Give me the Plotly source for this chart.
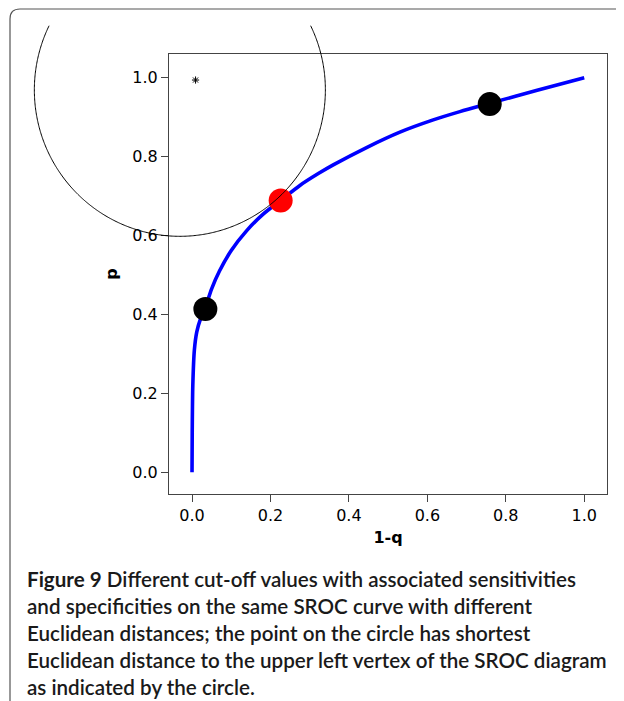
import numpy as np
import plotly.graph_objects as go

# ---- data ----
curve_x = [0.0, 0.0005, 0.002, 0.006, 0.012, 0.022, 0.034, 0.05, 0.07, 0.10, 0.14, 0.18,
           0.226, 0.275, 0.322, 0.36, 0.445, 0.53, 0.615, 0.683, 0.759, 0.88, 1.0]
curve_y = [0.0, 0.10, 0.22, 0.31, 0.355, 0.39, 0.418, 0.465, 0.51, 0.562, 0.613, 0.653,
           0.689, 0.727, 0.757, 0.779, 0.823, 0.862, 0.893, 0.914, 0.935, 0.968, 1.0]

black_x = [0.034, 0.759]
black_y = [0.414, 0.933]
red_x = [0.226]
red_y = [0.689]

vertex_x = [0.009]
vertex_y = [0.994]

circle_center = (-0.031, 0.969)
circle_radius = 0.371

tick_vals = [0.0, 0.2, 0.4, 0.6, 0.8, 1.0]
tick_text = ["0.0", "0.2", "0.4", "0.6", "0.8", "1.0"]

caption_lines = [
    "<b>Figure 9</b> Different cut-off values with associated sensitivities",
    "and specificities on the same SROC curve with different",
    "Euclidean distances; the point on the circle has shortest",
    "Euclidean distance to the upper left vertex of the SROC diagram",
    "as indicated by the circle.",
]

# ---- layout geometry (page has an 8px body margin) ----
OFF = 8
W, H = 624 - OFF, 701 - OFF
ML, MR, MT, MB = 169 - OFF, 17, 54 - OFF, 207
PW, PH = W - ML - MR, H - MT - MB
xr = [-0.0587, 1.058]
yr = [-0.055, 1.06]


def px2paper(px, py):
    """page pixel coords -> paper coords"""
    fx, fy = px - OFF, py - OFF
    return (fx - ML) / PW, (H - MB - fy) / PH


def data2paper(x, y):
    return (x - xr[0]) / (xr[1] - xr[0]), (y - yr[0]) / (yr[1] - yr[0])


fig = go.Figure()

fig.add_trace(go.Scatter(x=curve_x, y=curve_y, mode="lines",
                         line=dict(color="#0000ff", width=3.6, shape="spline", smoothing=0.8),
                         hoverinfo="skip"))
fig.add_trace(go.Scatter(x=black_x, y=black_y, mode="markers",
                         marker=dict(color="black", size=24, line=dict(width=0))))
fig.add_trace(go.Scatter(x=red_x, y=red_y, mode="markers",
                         marker=dict(color="#ff0000", size=24, line=dict(width=0))))
fig.add_trace(go.Scatter(x=vertex_x, y=vertex_y, mode="markers",
                         marker=dict(symbol="asterisk-open", size=6, color="black",
                                     line=dict(color="black", width=1))))

# circle (extends outside the plot area, clipped at the top of the figure region)
ang = np.linspace(np.pi / 2, np.pi / 2 - 2 * np.pi, 721)
cx = circle_center[0] + circle_radius * np.cos(ang)
cy = circle_center[1] + circle_radius * np.sin(ang)
ymax_paper = px2paper(0, 25)[1]
pts = []
for a, b in zip(cx, cy):
    u, v = data2paper(a, b)
    if v <= ymax_paper:
        pts.append((u, v))
path = "M " + " L ".join(f"{u:.5f},{v:.5f}" for u, v in pts)
shapes = [dict(type="path", path=path, xref="paper", yref="paper",
               line=dict(color="black", width=1))]

# outer rounded border (open to the right and bottom)
p1 = px2paper(10, 701 + 20)
p2 = px2paper(10, 19)
p3 = px2paper(10, 9)
p4 = px2paper(20, 9)
p5 = px2paper(624 + 20, 9)
border = (f"M {p1[0]:.5f},{p1[1]:.5f} L {p2[0]:.5f},{p2[1]:.5f} "
          f"Q {p3[0]:.5f},{p3[1]:.5f} {p4[0]:.5f},{p4[1]:.5f} L {p5[0]:.5f},{p5[1]:.5f}")
shapes.append(dict(type="path", path=border, xref="paper", yref="paper",
                   line=dict(color="#555555", width=1.2)))

annotations = []
for i, line in enumerate(caption_lines):
    xp, yp = px2paper(25, 579 + i * 26.9)
    annotations.append(dict(text=line, x=xp, y=yp, xref="paper", yref="paper",
                            xanchor="left", yanchor="middle", showarrow=False,
                            font=dict(family="Lato", size=20.6, color="#1a1a1a", weight=600)))

axis_common = dict(showgrid=False, zeroline=False, showline=True, mirror=True,
                   linecolor="#444444", linewidth=1.2, ticks="outside", ticklen=7,
                   tickwidth=1.2, tickcolor="#444444", tickvals=tick_vals, ticktext=tick_text,
                   tickfont=dict(family="DejaVu Sans", size=16, color="black"))

fig.update_layout(
    width=W, height=H,
    margin=dict(l=ML, r=MR, t=MT, b=MB, pad=0),
    paper_bgcolor="white", plot_bgcolor="white",
    showlegend=False,
    shapes=shapes,
    annotations=annotations,
    xaxis=dict(range=xr, title=dict(text="<b>1-q</b>", standoff=7,
                                    font=dict(family="DejaVu Sans", size=16, color="black")),
               **axis_common),
    yaxis=dict(range=yr, title=dict(text="<b>p</b>", standoff=10,
                                    font=dict(family="DejaVu Sans", size=16, color="black")),
               **axis_common),
)

fig.write_html("out.html")
